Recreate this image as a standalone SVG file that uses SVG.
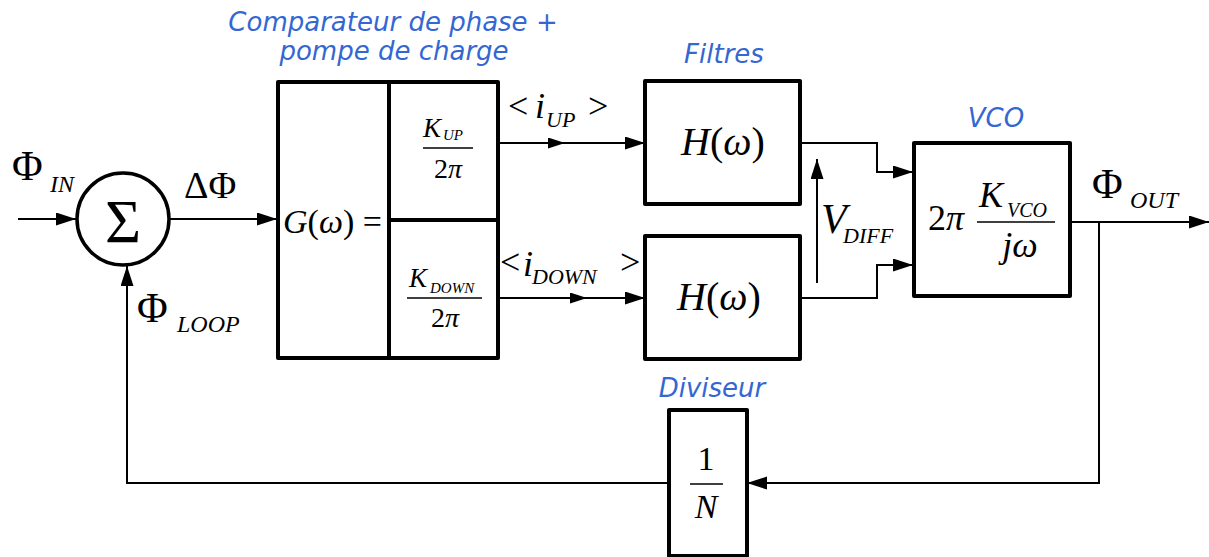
<svg xmlns="http://www.w3.org/2000/svg" width="1209" height="557" viewBox="0 0 1209 557">
<style>
.box{fill:none;stroke:#000;stroke-width:4;stroke-linejoin:round}
.ln{fill:none;stroke:#000;stroke-width:2}
.fr{stroke:#000;stroke-width:1.5}
.m{font-family:"Liberation Serif","Times New Roman",serif;fill:#000}
.i{font-style:italic}
.lbl{font-family:"DejaVu Sans",Verdana,sans-serif;font-style:italic;font-size:26px;fill:#3467d2;text-anchor:middle}
</style>
<defs>
<marker id="ah" markerUnits="userSpaceOnUse" markerWidth="20" markerHeight="14" refX="20" refY="6.5" orient="auto">
<path d="M0,0 L20,6.5 L0,13 z" fill="#000"/>
</marker>
<marker id="ahs" markerUnits="userSpaceOnUse" markerWidth="17" markerHeight="12" refX="17" refY="5.5" orient="auto">
<path d="M0,0 L17,5.5 L0,11 z" fill="#000"/>
</marker>
</defs>

<g id="connectors">
<path class="ln" d="M18,219 L76,219" marker-end="url(#ah)"/>
<path class="ln" d="M170,219 L277,219" marker-end="url(#ah)"/>
<path class="ln" d="M498,143 L565,143" marker-end="url(#ahs)"/>
<path class="ln" d="M563,143 L645,143" marker-end="url(#ah)"/>
<path class="ln" d="M498,298 L587,298" marker-end="url(#ahs)"/>
<path class="ln" d="M585,298 L645,298" marker-end="url(#ah)"/>
<path class="ln" d="M800,143 L877,143 L877,172 L913,172" marker-end="url(#ah)"/>
<path class="ln" d="M800,298 L877,298 L877,265 L913,265" marker-end="url(#ah)"/>
<path class="ln" d="M817,283 L817,159" marker-end="url(#ah)"/>
<path class="ln" d="M1070,222 L1209,222" marker-end="url(#ah)"/>
<path class="ln" d="M1099,222 L1099,483 L747,483" marker-end="url(#ah)"/>
<path class="ln" d="M669,483 L127,483 L127,266" marker-end="url(#ah)"/>
</g>

<g id="sum">
<circle cx="123" cy="219" r="46" fill="none" stroke="#000" stroke-width="3.5"/>
<text class="m" x="123" y="242" font-size="62" text-anchor="middle">Σ</text>
</g>

<g id="phi-in">
<text class="m" x="12" y="180" font-size="42">Φ</text>
<text class="m i" x="50" y="192" font-size="24">IN</text>
</g>
<g id="delta-phi">
<text class="m" x="184" y="198" font-size="38">ΔΦ</text>
</g>
<g id="phi-loop">
<text class="m" x="137" y="322" font-size="42">Φ</text>
<text class="m i" x="177" y="332" font-size="24">LOOP</text>
</g>

<g id="comparateur">
<rect class="box" x="278" y="82" width="220" height="276"/>
<line class="box" x1="389" y1="82" x2="389" y2="358"/>
<line class="box" x1="389" y1="220" x2="498" y2="220"/>
<text class="m" x="283" y="233" font-size="34"><tspan class="i">G</tspan>(<tspan class="i">ω</tspan>) =</text>
<text class="m i" x="423" y="137" font-size="27">K</text>
<text class="m i" x="443" y="140" font-size="15">UP</text>
<line class="fr" x1="423" y1="148" x2="473" y2="148"/>
<text class="m" x="448" y="178" font-size="28" text-anchor="middle">2<tspan class="i">π</tspan></text>
<text class="m i" x="409" y="287" font-size="27">K</text>
<text class="m i" x="430" y="293" font-size="15">DOWN</text>
<line class="fr" x1="407" y1="298" x2="482" y2="298"/>
<text class="m" x="445" y="327" font-size="28" text-anchor="middle">2<tspan class="i">π</tspan></text>
</g>

<g id="i-up">
<text class="m" x="508" y="118" font-size="36">&lt;</text>
<text class="m i" x="535" y="118" font-size="36">i</text>
<text class="m i" x="546" y="127" font-size="22">UP</text>
<text class="m" x="588" y="118" font-size="36">&gt;</text>
</g>
<g id="i-down">
<text class="m" x="500" y="274" font-size="36">&lt;</text>
<text class="m i" x="523" y="276" font-size="36">i</text>
<text class="m i" x="532" y="284" font-size="22">DOWN</text>
<text class="m" x="620" y="274" font-size="36">&gt;</text>
</g>

<g id="filtre-haut">
<rect class="box" x="645" y="81" width="155" height="123"/>
<text class="m" x="723" y="155" font-size="40" text-anchor="middle"><tspan class="i">H</tspan>(<tspan class="i">ω</tspan>)</text>
</g>
<g id="filtre-bas">
<rect class="box" x="645" y="236" width="155" height="123"/>
<text class="m" x="719" y="310" font-size="40" text-anchor="middle"><tspan class="i">H</tspan>(<tspan class="i">ω</tspan>)</text>
</g>

<g id="vdiff">
<text class="m i" x="821" y="233" font-size="42">V</text>
<text class="m i" x="843" y="243" font-size="22">DIFF</text>
</g>

<g id="vco">
<rect class="box" x="914" y="143" width="156" height="153"/>
<text class="m" x="928" y="230" font-size="36">2<tspan class="i">π</tspan></text>
<text class="m i" x="979" y="207" font-size="36">K</text>
<text class="m i" x="1007" y="217" font-size="20">VCO</text>
<line class="fr" x1="977" y1="222" x2="1055" y2="222"/>
<text class="m i" x="1020" y="257" font-size="36" text-anchor="middle">jω</text>
</g>

<g id="phi-out">
<text class="m" x="1092" y="198" font-size="42">Φ</text>
<text class="m i" x="1130" y="208" font-size="24">OUT</text>
</g>

<g id="diviseur">
<rect class="box" x="669" y="410" width="78" height="146"/>
<text class="m" x="706" y="470" font-size="34" text-anchor="middle">1</text>
<line class="fr" x1="690" y1="484" x2="723" y2="484"/>
<text class="m i" x="706" y="518" font-size="34" text-anchor="middle">N</text>
</g>

<g id="labels">
<text class="lbl" x="393" y="31">Comparateur de phase +</text>
<text class="lbl" x="394" y="60">pompe de charge</text>
<text class="lbl" x="724" y="63">Filtres</text>
<text class="lbl" x="996" y="127">VCO</text>
<text class="lbl" x="712" y="397">Diviseur</text>
</g>
</svg>
